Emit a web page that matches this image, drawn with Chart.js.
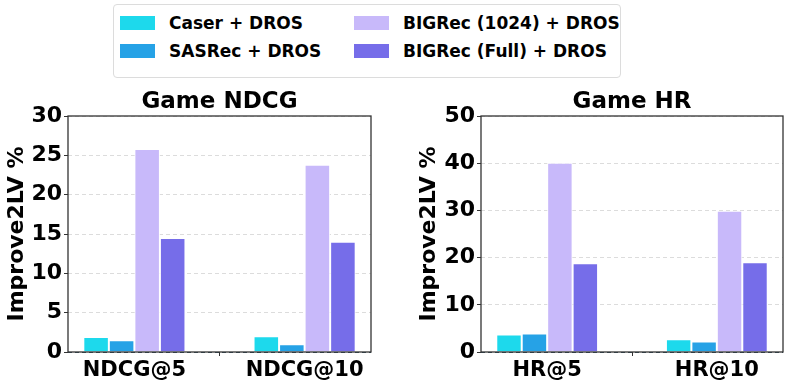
<!DOCTYPE html>
<html>
<head>
<meta charset="utf-8">
<script src="https://cdn.jsdelivr.net/npm/chart.js@4"></script>
<style>
  body { margin: 0; background: #fff; font-family: 'DejaVu Sans', sans-serif; }
  #page { position: relative; width: 797px; height: 391px; overflow: hidden; }
  #legend { position: absolute; left: 113px; top: 4px; width: 508px; height: 74px;
            border: 1px solid #dcdcdc; border-radius: 4px; box-sizing: border-box; }
  .item { position: absolute; height: 20px; display: flex; align-items: center;
          font-weight: bold; font-size: 17px; color: #000; white-space: nowrap; }
  .swatch { width: 35px; height: 14px; margin-right: 14px; }
  .box { position: absolute; top: 80px; height: 311px; }
</style>
</head>
<body>
<div id="page">
  <div id="legend"></div>
  <div class="box" style="left:0;width:400px"><canvas id="ndcgChart" width="400" height="311"></canvas></div>
  <div class="box" style="left:400px;width:397px"><canvas id="hrChart" width="397" height="311"></canvas></div>
</div>
<script>
var seriesNames = ['Caser + DROS', 'SASRec + DROS', 'BIGRec (1024) + DROS', 'BIGRec (Full) + DROS'];
var seriesColors = ['#1dd9ec', '#26a2e6', '#c8b9fa', '#766de9'];

var ndcgLabels = ['NDCG@5', 'NDCG@10'];
var ndcgCaser = [1.9, 2.0];
var ndcgSasrec = [1.5, 1.0];
var ndcgBig1024 = [25.8, 23.8];
var ndcgBigFull = [14.5, 14.0];

var hrLabels = ['HR@5', 'HR@10'];
var hrCaser = [3.7, 2.7];
var hrSasrec = [3.9, 2.2];
var hrBig1024 = [40.1, 29.9];
var hrBigFull = [18.8, 19.0];

Chart.defaults.font.family = 'DejaVu Sans';
Chart.defaults.font.weight = 'bold';
Chart.defaults.color = '#000';

// legend (shared by both panels)
var legendEl = document.getElementById('legend');
var legendPos = [[6, 8], [6, 36], [240, 8], [240, 36]];
for (var i = 0; i < seriesNames.length; i++) {
    var it = document.createElement('div');
    it.className = 'item';
    it.style.left = legendPos[i][0] + 'px';
    it.style.top = legendPos[i][1] + 'px';
    it.innerHTML = '<span class="swatch" style="background:' + seriesColors[i] + '"></span>' + seriesNames[i];
    legendEl.appendChild(it);
}

var framePlugin = {
    id: 'frame',
    afterDraw: function (chart) {
        var a = chart.chartArea, ctx = chart.ctx;
        ctx.save();
        ctx.strokeStyle = '#333';
        ctx.lineWidth = 1.3;
        ctx.strokeRect(a.left, a.top, a.right - a.left, a.bottom - a.top);
        ctx.restore();
    }
};

function makeChart(id, title, labels, series, yMax, yStep, yWidth, pad) {
    var datasets = series.map(function (vals, k) {
        return {
            label: seriesNames[k],
            data: vals.map(function (v, i) { return { x: i, y: v }; }),
            backgroundColor: seriesColors[k],
            borderColor: '#ffffff',
            borderWidth: 1,
            categoryPercentage: 0.6,
            barPercentage: 1.0
        };
    });
    return new Chart(document.getElementById(id), {
        type: 'bar',
        data: { datasets: datasets },
        plugins: [framePlugin],
        options: {
            responsive: false,
            animation: false,
            layout: { padding: pad },
            plugins: {
                legend: { display: false },
                tooltip: { enabled: false },
                title: {
                    display: true, text: title, fullSize: false,
                    font: { size: 23, weight: 'bold' }, color: '#000',
                    padding: { top: 8, bottom: 0.4 }
                }
            },
            scales: {
                x: {
                    type: 'linear', min: -0.39, max: 1.39, offset: false,
                    grid: { display: true, drawOnChartArea: false, drawTicks: true,
                            tickLength: 4, tickColor: '#333', tickWidth: 1 },
                    border: { display: false },
                    afterBuildTicks: function (s) { s.ticks = labels.map(function (l, i) { return { value: i }; }); },
                    afterFit: function (s) { s.height = 39; },
                    ticks: {
                        padding: 2, autoSkip: false, maxRotation: 0,
                        font: { size: 21, weight: 'bold' },
                        callback: function (v) { return labels[v]; }
                    }
                },
                y: {
                    min: 0, max: yMax,
                    afterFit: function (s) { s.width = yWidth; },
                    grid: {
                        drawTicks: true, tickLength: 4, tickColor: '#333', tickWidth: 1,
                        tickBorderDash: [],
                        color: function (c) { return c.tick.value === 0 ? '#2f4f5f' : '#dcdcdc'; },
                        lineWidth: 1
                    },
                    border: { display: false, dash: [4, 3] },
                    ticks: { stepSize: yStep, padding: 2, font: { size: 22, weight: 'bold' } },
                    title: {
                        display: true, text: 'Improve2LV %',
                        font: { size: 22, weight: 'bold' }, color: '#000',
                        padding: { top: 4, bottom: 0 }
                    }
                }
            }
        }
    });
}

makeChart('ndcgChart', 'Game NDCG', ndcgLabels,
    [ndcgCaser, ndcgSasrec, ndcgBig1024, ndcgBigFull], 30, 5, 68,
    { left: 0, right: 29, top: 0, bottom: 0 });
makeChart('hrChart', 'Game HR', hrLabels,
    [hrCaser, hrSasrec, hrBig1024, hrBigFull], 50, 10, 69,
    { left: 12, right: 14, top: 0, bottom: 0 });
</script>
</body>
</html>
